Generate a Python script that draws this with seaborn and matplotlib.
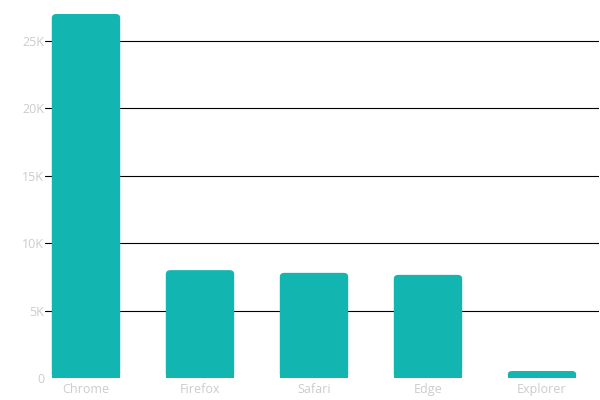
import matplotlib
matplotlib.use("Agg")
import matplotlib.pyplot as plt
import seaborn as sns
import pandas as pd
from matplotlib.patches import FancyBboxPatch

browsers = ["Chrome", "Firefox", "Safari", "Edge", "Explorer"]
visits = [27000, 8000, 7800, 7650, 520]
yticks = [0, 5000, 10000, 15000, 20000, 25000]
ytick_labels = ["0", "5K", "10K", "15K", "20K", "25K"]

sns.set_style("white")
plt.rcParams['font.family'] = ['Open Sans', 'DejaVu Sans']

df = pd.DataFrame({"browser": browsers, "visits": visits})
fig, ax = plt.subplots(figsize=(6, 4), dpi=100)
fig.subplots_adjust(left=29/600, right=599/600, top=1 - 14/400, bottom=22/400)
sns.barplot(data=df, x="browser", y="visits", color="#12b5b0", width=0.6, ax=ax, saturation=1)

for p in list(ax.patches):
    x, y, w, h = p.get_x(), p.get_y(), p.get_width(), p.get_height()
    p.set_visible(False)
    r = 0.04
    rr = min(300, h / 2)
    fb = FancyBboxPatch((x, y), w, h, boxstyle=f"round,pad=0,rounding_size={r}",
                        mutation_aspect=rr / r, facecolor="#12b5b0", edgecolor="none")
    ax.add_patch(fb)
    ax.add_patch(plt.Rectangle((x, y), w, min(h / 2, 600), facecolor="#12b5b0", edgecolor="none"))

ax.set_ylim(0, 27000)
ax.set_xlim(-0.5, 4.5)
ax.set_yticks(yticks)
ax.set_yticklabels(ytick_labels)
for t in yticks[1:]:
    ax.axhline(t, xmin=0.028, xmax=1, color="black", lw=0.8, zorder=0)
ax.set_xlabel("")
ax.set_ylabel("")
for s in ax.spines.values():
    s.set_visible(False)
ax.tick_params(axis="both", length=0, colors="#cccccc", labelsize=9)
ax.tick_params(axis="y", pad=-11)
fig.savefig("out.png")
